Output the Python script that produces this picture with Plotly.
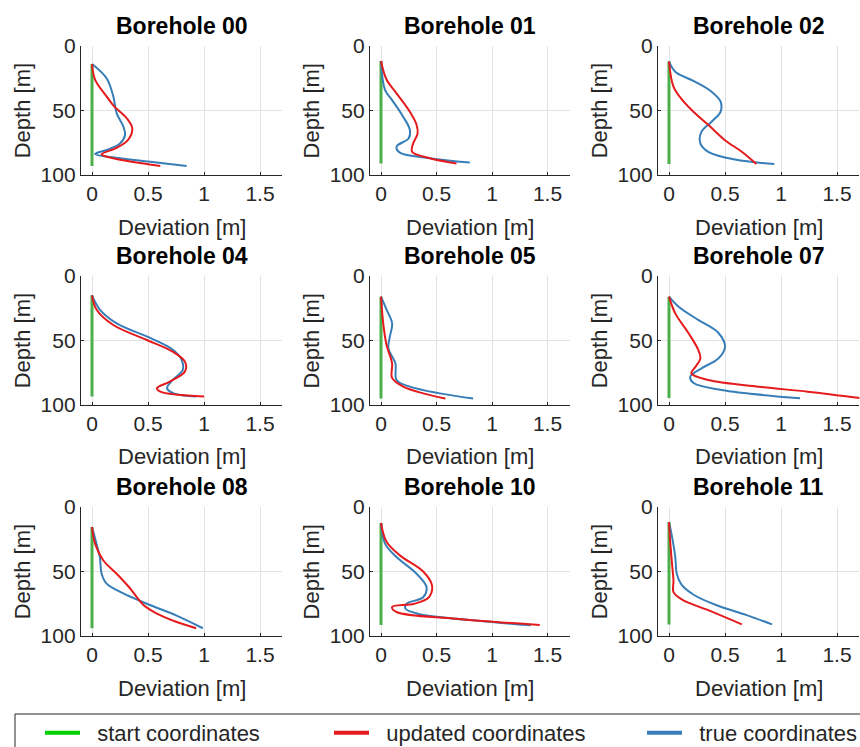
import plotly.graph_objects as go

# ---------------- data (deviation [m] vs depth [m]) ----------------
titles = ["Borehole 00", "Borehole 01", "Borehole 02",
          "Borehole 04", "Borehole 05", "Borehole 07",
          "Borehole 08", "Borehole 10", "Borehole 11"]

# start coordinates (vertical, zero deviation): top / bottom depth
start_depth_00 = [14, 93];   start_dev_00 = [0, 0]
start_depth_01 = [11.6, 91]; start_dev_01 = [0, 0]
start_depth_02 = [12, 91.5]; start_dev_02 = [0, 0]
start_depth_04 = [15, 93.5]; start_dev_04 = [0, 0]
start_depth_05 = [16, 95];   start_dev_05 = [0, 0]
start_depth_07 = [16, 94.5]; start_dev_07 = [0, 0]
start_depth_08 = [15.5, 94]; start_dev_08 = [0, 0]
start_depth_10 = [12.4, 91.5]; start_dev_10 = [0, 0]
start_depth_11 = [11.6, 91]; start_dev_11 = [0, 0]

# updated coordinates
upd_depth_00 = [14, 26, 39, 47, 56, 64, 73, 79, 84, 87, 93]
upd_dev_00 = [0, 0.027, 0.13, 0.2, 0.31, 0.36, 0.32, 0.22, 0.086, 0.19, 0.61]
upd_depth_01 = [11.6, 26, 36.7, 51, 61, 67.7, 75.5, 82, 87, 91]
upd_dev_01 = [0, 0.05, 0.14, 0.26, 0.32, 0.33, 0.29, 0.28, 0.44, 0.68]
upd_depth_02 = [12, 31.5, 42, 52, 61, 73, 82, 91.5]
upd_dev_02 = [0, 0.04, 0.12, 0.23, 0.35, 0.5, 0.65, 0.78]
upd_depth_04 = [15, 26, 38, 49.6, 58.6, 66.4, 74, 82, 87, 89.7, 93.5]
upd_dev_04 = [0, 0.04, 0.19, 0.49, 0.72, 0.83, 0.83, 0.69, 0.58, 0.61, 1.0]
upd_depth_05 = [16, 36.7, 53.5, 67.7, 79, 85.8, 91, 95]
upd_dev_05 = [0, 0.02, 0.05, 0.1, 0.1, 0.2, 0.38, 0.58]
upd_depth_07 = [16, 29, 44.4, 57, 64, 70, 75.5, 80.6, 85.8, 89.7, 94.8]
upd_dev_07 = [0, 0.056, 0.175, 0.26, 0.28, 0.24, 0.2, 0.35, 0.8, 1.24, 1.72]
upd_depth_08 = [15.5, 28.4, 41.3, 51.7, 62, 76, 82.7, 89, 94]
upd_dev_08 = [0, 0.027, 0.1, 0.22, 0.33, 0.46, 0.58, 0.75, 0.93]
upd_depth_10 = [12.4, 27, 37.5, 50, 61, 70, 75, 77.5, 81.4, 86.6, 91.5]
upd_dev_10 = [0, 0.05, 0.17, 0.38, 0.46, 0.43, 0.3, 0.1, 0.14, 0.68, 1.43]
upd_depth_11 = [11.6, 28.4, 44, 57, 66, 72, 80, 91]
upd_dev_11 = [0, 0.012, 0.027, 0.04, 0.04, 0.12, 0.35, 0.65]

# true coordinates
true_depth_00 = [14, 25, 39, 52, 62.5, 69, 75.5, 80.6, 83.7, 86, 89.7, 93]
true_dev_00 = [0, 0.13, 0.19, 0.22, 0.28, 0.295, 0.25, 0.13, 0.027, 0.16, 0.52, 0.845]
true_depth_01 = [11.6, 34, 42, 53.5, 65, 71.5, 78, 82.7, 87, 90.4]
true_dev_01 = [0, 0.036, 0.1, 0.19, 0.26, 0.25, 0.14, 0.17, 0.44, 0.8]
true_depth_02 = [12, 20, 27.6, 35.4, 43, 51, 58.7, 66.4, 75.5, 82, 88, 91.5]
true_dev_02 = [0, 0.056, 0.23, 0.38, 0.46, 0.46, 0.38, 0.29, 0.28, 0.35, 0.59, 0.94]
true_depth_04 = [15, 26, 36.7, 48, 57, 65, 73, 80.6, 87, 91, 93.5]
true_dev_04 = [0, 0.07, 0.22, 0.52, 0.72, 0.8, 0.81, 0.72, 0.67, 0.73, 0.93]
true_depth_05 = [16, 26, 36.7, 47, 56, 67.7, 80.6, 85.8, 91, 95]
true_dev_05 = [0, 0.05, 0.1, 0.08, 0.066, 0.13, 0.14, 0.26, 0.53, 0.83]
true_depth_07 = [16, 23.8, 34, 44, 55, 64, 71.6, 78, 83, 88.4, 94.8]
true_dev_07 = [0, 0.086, 0.26, 0.44, 0.5, 0.44, 0.29, 0.19, 0.22, 0.47, 1.17]
true_depth_08 = [15.5, 28.4, 38.8, 51.7, 59.4, 67, 75, 84, 94]
true_dev_08 = [0, 0.04, 0.07, 0.086, 0.13, 0.28, 0.49, 0.75, 0.99]
true_depth_10 = [12.4, 28.4, 38.8, 51.7, 62, 70, 75, 78.8, 82.7, 89, 91.7]
true_dev_10 = [0, 0.036, 0.14, 0.32, 0.41, 0.38, 0.23, 0.22, 0.33, 0.98, 1.35]
true_depth_11 = [11.6, 23, 38.8, 52, 60, 68, 76, 84, 91]
true_dev_11 = [0, 0.027, 0.056, 0.07, 0.11, 0.22, 0.42, 0.7, 0.92]

x_tickvals = [0, 0.5, 1, 1.5]
x_ticktext = ["0", "0.5", "1", "1.5"]
y_tickvals = [0, 50, 100]
y_ticktext = ["0", "50", "100"]
legend_names = ["start coordinates", "updated coordinates", "true coordinates"]

start_sets = [(start_dev_00, start_depth_00), (start_dev_01, start_depth_01), (start_dev_02, start_depth_02),
              (start_dev_04, start_depth_04), (start_dev_05, start_depth_05), (start_dev_07, start_depth_07),
              (start_dev_08, start_depth_08), (start_dev_10, start_depth_10), (start_dev_11, start_depth_11)]
upd_sets = [(upd_dev_00, upd_depth_00), (upd_dev_01, upd_depth_01), (upd_dev_02, upd_depth_02),
            (upd_dev_04, upd_depth_04), (upd_dev_05, upd_depth_05), (upd_dev_07, upd_depth_07),
            (upd_dev_08, upd_depth_08), (upd_dev_10, upd_depth_10), (upd_dev_11, upd_depth_11)]
true_sets = [(true_dev_00, true_depth_00), (true_dev_01, true_depth_01), (true_dev_02, true_depth_02),
             (true_dev_04, true_depth_04), (true_dev_05, true_depth_05), (true_dev_07, true_depth_07),
             (true_dev_08, true_depth_08), (true_dev_10, true_depth_10), (true_dev_11, true_depth_11)]

# ---------------- styling / layout ----------------
W, H = 860, 747
GREEN, RED, BLUE = "#4daf4a", "#e41a1c", "#377eb8"
LEG_GREEN = "#00d000"
AX = "#262626"
GRID = "#e2e2e2"
FONT = "Liberation Sans, Arial, sans-serif"

col_px = [(80.8, 282.4), (369.9, 569.7), (657.8, 859.4)]
row_px = [(46, 175), (276, 405), (507, 636)]

fig = go.Figure()
layout = dict(
    width=W, height=H, margin=dict(l=0, r=0, t=0, b=0, autoexpand=False),
    paper_bgcolor="white", plot_bgcolor="white",
    font=dict(family=FONT, size=21, color=AX),
    showlegend=True,
)
annotations = []

for i in range(9):
    r, c = divmod(i, 3)
    k = "" if i == 0 else str(i + 1)
    xa, ya = "x" + k, "y" + k
    x0, x1 = col_px[c]
    y0, y1 = row_px[r]
    layout["xaxis" + k] = dict(
        domain=[x0 / W, x1 / W], anchor=ya, range=[-0.1, 1.7],
        tickvals=x_tickvals, ticktext=x_ticktext,
        showgrid=True, gridcolor=GRID, gridwidth=1, zeroline=False,
        showline=True, linecolor=AX, linewidth=1,
        ticks="inside", ticklen=3, tickcolor=AX,
        tickfont=dict(size=21, color=AX, family=FONT),
    )
    layout["yaxis" + k] = dict(
        domain=[1 - y1 / H, 1 - y0 / H], anchor=xa, range=[100, 0],
        tickvals=y_tickvals, ticktext=y_ticktext,
        showgrid=True, gridcolor=GRID, gridwidth=1, zeroline=False,
        showline=True, linecolor=AX, linewidth=1,
        ticks="inside", ticklen=3, tickcolor=AX,
        tickfont=dict(size=21, color=AX, family=FONT),
    )
    sx, sy = start_sets[i]
    fig.add_trace(go.Scatter(x=sx, y=sy, mode="lines", xaxis=xa, yaxis=ya,
                             line=dict(color=GREEN, width=3), showlegend=False, hoverinfo="skip"))
    tx, ty = true_sets[i]
    fig.add_trace(go.Scatter(x=tx, y=ty, mode="lines", xaxis=xa, yaxis=ya,
                             line=dict(color=BLUE, width=2, shape="spline", smoothing=1.0),
                             showlegend=False))
    ux, uy = upd_sets[i]
    fig.add_trace(go.Scatter(x=ux, y=uy, mode="lines", xaxis=xa, yaxis=ya,
                             line=dict(color=RED, width=2, shape="spline", smoothing=1.0),
                             showlegend=False))
    cx = (x0 + x1) / 2 / W
    annotations.append(dict(text="<b>" + titles[i] + "</b>", x=cx, y=1 - (y0 - 20) / H,
                            xref="paper", yref="paper", xanchor="center", yanchor="middle",
                            showarrow=False, font=dict(size=23, color="black", family=FONT)))
    annotations.append(dict(text="Deviation [m]", x=cx, y=1 - (y1 + 52) / H,
                            xref="paper", yref="paper", xanchor="center", yanchor="middle",
                            showarrow=False, font=dict(size=22, color=AX, family=FONT)))
    annotations.append(dict(text="Depth [m]", x=(x0 - 58) / W, y=1 - (y0 + y1) / 2 / H,
                            xref="paper", yref="paper", xanchor="center", yanchor="middle",
                            textangle=-90, showarrow=False, font=dict(size=22, color=AX, family=FONT)))

# legend entries (one legend per entry so each can be placed like the original)
leg_colors = [LEG_GREEN, RED, BLUE]
leg_ids = ["legend", "legend2", "legend3"]
leg_x = [40, 329, 642]
for name, col, lid, lx in zip(legend_names, leg_colors, leg_ids, leg_x):
    fig.add_trace(go.Scatter(x=[None], y=[None], mode="lines", name="\u00a0\u00a0" + name,
                             line=dict(color=col, width=4), legend=lid, showlegend=True))
    layout[lid] = dict(x=lx / W, y=1 - 733 / H, xanchor="left", yanchor="middle",
                       bgcolor="rgba(0,0,0,0)", borderwidth=0, itemwidth=35,
                       font=dict(size=22, color=AX, family=FONT))

layout["annotations"] = annotations
layout["shapes"] = [dict(type="rect", xref="paper", yref="paper",
                         x0=15 / W, x1=1.02, y0=-0.02, y1=1 - 714 / H,
                         line=dict(color=AX, width=1), fillcolor="rgba(0,0,0,0)")]
fig.update_layout(**layout)
fig.write_html("out.html")
